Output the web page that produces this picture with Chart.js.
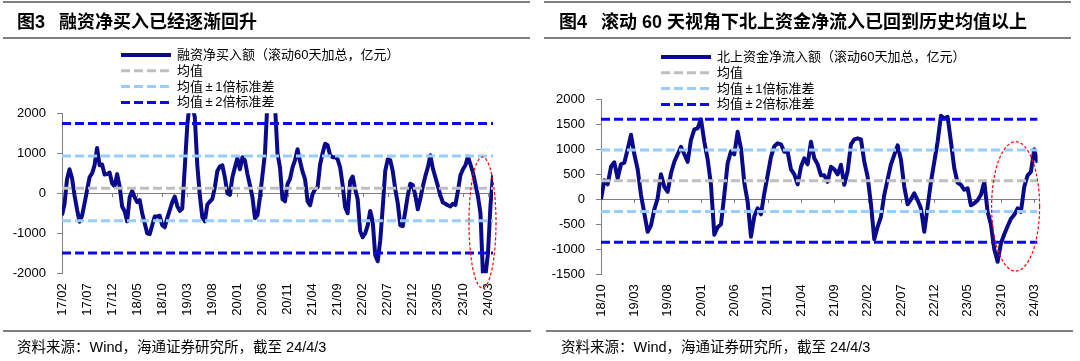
<!DOCTYPE html>
<html><head><meta charset="utf-8">
<script src="https://cdn.jsdelivr.net/npm/chart.js@4.4.1/dist/chart.umd.min.js"></script>
<style>
html,body{margin:0;padding:0;background:#fff;}
body{width:1080px;height:361px;position:relative;overflow:hidden;font-family:"Liberation Sans","Noto Sans CJK SC",sans-serif;}
canvas{position:absolute;top:0;}
.rule{position:absolute;height:2px;background:#7f7f7f;}
.title{position:absolute;top:12px;font-size:18px;line-height:20px;font-weight:bold;color:#000;white-space:nowrap;}
.title span.b{margin-left:14px;}
.src{position:absolute;top:339px;font-size:14.5px;line-height:16px;color:#000;white-space:nowrap;}
</style></head><body>
<canvas id="c1" width="540" height="361" style="left:0"></canvas>
<canvas id="c2" width="540" height="361" style="left:540px"></canvas>
<div class="rule" style="left:3px;top:1px;width:527px"></div>
<div class="rule" style="left:3px;top:37px;width:527px"></div>
<div class="rule" style="left:3px;top:330px;width:528px"></div>
<div class="rule" style="left:544px;top:1px;width:527px"></div>
<div class="rule" style="left:544px;top:37px;width:527px"></div>
<div class="rule" style="left:546px;top:330px;width:527px"></div>
<div class="title" style="left:17px"><span>图3</span><span class="b">融资净买入已经逐渐回升</span></div>
<div class="title" style="left:559px"><span>图4</span><span class="b">滚动 60 天视角下北上资金净流入已回到历史均值以上</span></div>
<div class="src" style="left:17px">资料来源：Wind，海通证券研究所，截至 24/4/3</div>
<div class="src" style="left:561px">资料来源：Wind，海通证券研究所，截至 24/4/3</div>
<script>
// ---------- data ----------
const leftTickLabels = ['17/02','17/07','17/12','18/05','18/10','19/03','19/08','20/01','20/06','20/11','21/04','21/09','22/02','22/07','22/12','23/05','23/10','24/03'];
// rolling-60-day margin net buying, one value per 1/10 of a tick interval
const leftSeries = [
 -550,-270,350,600,380,-50,-400,-710,-560,-250,
 80,400,500,700,1130,700,720,470,480,520,
 250,180,480,170,-330,-450,-700,-100,60,-100,
 -220,-170,-500,-750,-1000,-1020,-800,-580,-580,-560,
 -800,-850,-620,-420,-220,-80,-320,-440,-380,650,
 1700,2300,2200,1900,700,-50,-600,-700,-280,-210,
 -140,150,560,670,700,400,0,-40,400,650,
 880,600,900,820,480,200,-100,-620,-550,-100,
 450,1000,2300,2600,2500,2200,1000,640,-150,-200,
 230,360,650,830,1100,800,540,350,-200,-300,
 -20,100,150,720,1000,1240,1200,950,900,900,
 850,650,200,-350,-500,300,420,100,-150,-950,
 -1100,-1000,-800,-440,-700,-1550,-1700,-1180,-350,560,
 850,830,550,100,-250,-800,-820,-450,-50,240,
 200,-50,-400,-130,170,430,650,950,620,400,
 180,-50,-230,-260,-300,-330,-260,-290,60,450,
 600,700,920,720,520,220,-80,-500,-2050,-2050,
 -1500,-300,450
];
const leftMean = [125];
const leftSigma1 = [935, -685];
const leftSigma2 = [1745, -1495];
const leftHighlight = [16.78, -730, 0.54, 1638]; // centre x, centre y, half-width, half-height (data units)

const rightTickLabels = ['18/10','19/03','19/08','20/01','20/06','20/11','21/04','21/09','22/02','22/07','22/12','23/05','23/10','24/03'];
const rightSeries = [
 0,380,300,650,740,420,700,730,1000,1290,
 900,600,90,-280,-650,-520,-200,20,500,250,
 150,520,750,900,1050,900,750,1190,1400,1420,
 1600,1150,800,290,-710,-560,-500,90,720,960,
 900,1350,1020,330,-50,-750,-340,-180,-300,120,
 480,850,1060,1120,1100,950,950,600,500,300,
 650,820,700,1150,820,700,480,480,350,650,
 600,500,690,290,560,1100,1200,1220,1200,750,
 450,-100,-800,-550,-350,90,400,700,890,1080,
 790,250,-100,0,120,-20,-180,-650,-150,350,
 750,1150,1670,1620,1650,1150,620,330,290,190,
 220,-120,-80,-20,90,350,-250,-510,-1000,-1250,
 -880,-700,-540,-390,-310,-180,-250,250,480,550,
 1000,730
];
const rightMean = [370];
const rightSigma1 = [985, -245];
const rightSigma2 = [1600, -860];
const rightHighlight = [12.44, -142, 0.72, 1294];

const legendNames = ['均值','均值\u2009±\u20091倍标准差','均值\u2009±\u20092倍标准差'];
const POINTS_PER_TICK = 10;

// ---------- plugins ----------
const FONT = '"Liberation Sans","Noto Sans CJK SC",sans-serif';
const sideLegend = {
  id: 'sideLegend',
  afterDraw(chart, args, o) {
    const ctx = chart.ctx;
    const items = chart.data.datasets.filter(d => d.label);
    items.forEach((ds, i) => {
      const y = o.y0 + i * o.dy;
      ctx.save();
      ctx.strokeStyle = ds.borderColor;
      ctx.lineWidth = ds.borderWidth;
      ctx.setLineDash(ds.borderDash || []);
      ctx.beginPath(); ctx.moveTo(o.x0, y); ctx.lineTo(o.x0 + o.len, y); ctx.stroke();
      ctx.setLineDash([]);
      ctx.fillStyle = '#000';
      ctx.font = '13px ' + FONT;
      ctx.textBaseline = 'middle';
      ctx.fillText(ds.label, o.x0 + o.len + o.gap, y + 0.5);
      ctx.restore();
    });
  }
};
const zeroTicks = {
  id: 'zeroTicks',
  beforeDatasetsDraw(chart) {
    const {ctx, scales: {x, y}} = chart;
    const y0 = Math.round(y.getPixelForValue(0));
    ctx.save(); ctx.strokeStyle = '#808080'; ctx.lineWidth = 1;
    x.ticks.forEach(t => {
      const px = Math.round(x.getPixelForValue(t.value)) + 0.5;
      ctx.beginPath(); ctx.moveTo(px, y0); ctx.lineTo(px, y0 + 4); ctx.stroke();
    });
    ctx.restore();
  }
};
const highlight = {
  id: 'highlight',
  afterDatasetsDraw(chart, args, o) {
    const {ctx, scales: {x, y}} = chart;
    const [cx, cy, rx, ry] = o.e;
    const px = x.getPixelForValue(cx), py = y.getPixelForValue(cy);
    const prx = Math.abs(x.getPixelForValue(cx + rx) - px);
    const pry = Math.abs(y.getPixelForValue(cy + ry) - py);
    ctx.save();
    ctx.strokeStyle = '#FF0000'; ctx.lineWidth = 1.2; ctx.setLineDash([3, 2]);
    ctx.beginPath(); ctx.ellipse(px, py, prx, pry, 0, 0, Math.PI * 2); ctx.stroke();
    ctx.restore();
  }
};

function buildChart(id, c) {
  const xMax = (c.series.length - 1) / POINTS_PER_TICK;
  const hline = v => [{x: 0, y: v}, {x: xMax, y: v}];
  const dash = [9, 4];
  const ref = (label, v, color) => ({label, data: hline(v), borderColor: color, borderWidth: 3, borderDash: dash, order: 1});
  const datasets = [
    {label: c.seriesLabel, data: c.series.map((v, i) => ({x: i / POINTS_PER_TICK, y: v})), borderColor: '#0A0A8C', borderWidth: 4, order: 10},
    ref(legendNames[0], c.mean[0], '#BFBFBF'),
    ref(legendNames[1], c.sigma1[0], '#99CCFF'),
    ref('', c.sigma1[1], '#99CCFF'),
    ref(legendNames[2], c.sigma2[0], '#0A0AEE'),
    ref('', c.sigma2[1], '#0A0AEE')
  ];
  return new Chart(document.getElementById(id), {
    type: 'line',
    data: {datasets},
    plugins: [sideLegend, zeroTicks, highlight],
    options: {
      responsive: false, animation: false, devicePixelRatio: 1,
      layout: {padding: {left: 0, right: c.padRight, top: c.padTop, bottom: 0}},
      elements: {point: {radius: 0}, line: {tension: 0, borderJoinStyle: 'round'}},
      plugins: {
        legend: {display: false}, tooltip: {enabled: false},
        sideLegend: {x0: 121, len: 50, gap: 6, y0: c.legendY0, dy: 15.8},
        highlight: {e: c.ellipse}
      },
      scales: {
        x: {
          type: 'linear', min: 0, max: xMax,
          afterFit: s => { s.height = c.xAxisH; },
          grid: {display: false, drawTicks: false}, border: {display: false},
          ticks: {
            stepSize: 1, autoSkip: false, includeBounds: false, minRotation: 90, maxRotation: 90, padding: 10,
            color: '#000', font: {size: 13, family: FONT},
            callback: v => Math.abs(v - Math.round(v)) < 1e-6 ? (c.tickLabels[Math.round(v)] ?? null) : null
          }
        },
        y: {
          min: c.yMin, max: c.yMax,
          afterFit: s => { s.width = c.yAxisW; },
          ticks: {stepSize: c.yStep, padding: 11, color: '#000', font: {size: 13, family: FONT}, callback: v => String(v)},
          grid: {color: ctx => (ctx.tick && ctx.tick.value === 0) ? '#808080' : 'rgba(0,0,0,0)', tickColor: '#808080', tickLength: 5, lineWidth: 1},
          border: {display: true, color: '#808080', width: 1}
        }
      }
    }
  });
}

buildChart('c1', {
  series: leftSeries, seriesLabel: '融资净买入额（滚动60天加总，亿元）', tickLabels: leftTickLabels,
  mean: leftMean, sigma1: leftSigma1, sigma2: leftSigma2, ellipse: leftHighlight,
  yMin: -2000, yMax: 2000, yStep: 1000,
  padTop: 113.3, padRight: 47, yAxisW: 62, xAxisH: 87.7, legendY0: 55
});
buildChart('c2', {
  series: rightSeries, seriesLabel: '北上资金净流入额（滚动60天加总，亿元）', tickLabels: rightTickLabels,
  mean: rightMean, sigma1: rightSigma1, sigma2: rightSigma2, ellipse: rightHighlight,
  yMin: -1500, yMax: 2000, yStep: 500,
  padTop: 99.3, padRight: 42.4, yAxisW: 61, xAxisH: 86.7, legendY0: 57
});
</script>
</body></html>
